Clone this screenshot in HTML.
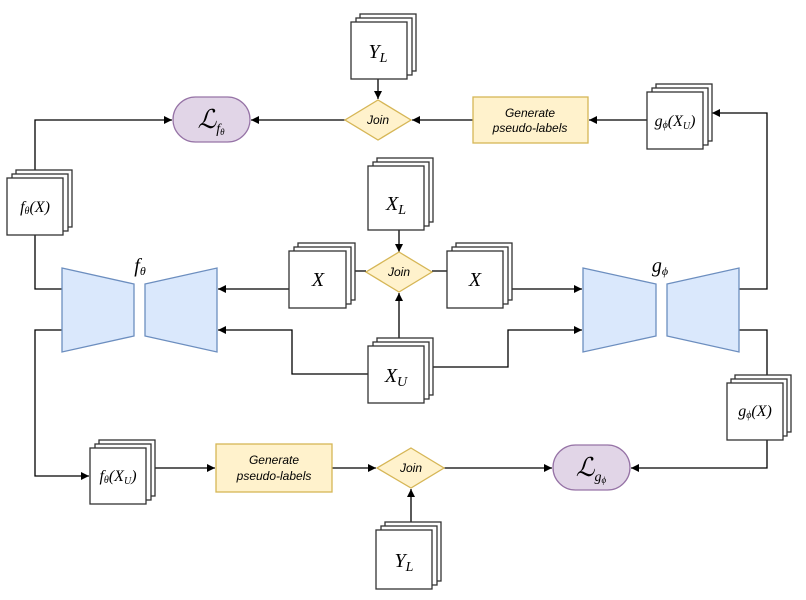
<!DOCTYPE html>
<html><head><meta charset="utf-8"><style>
html,body{margin:0;padding:0;background:#fff;}
svg{display:block;}
.m{font-family:"Liberation Serif","DejaVu Serif",serif;font-style:italic;fill:#000;}
.s{font-family:"Liberation Sans",sans-serif;font-style:italic;font-size:12px;fill:#000;}
</style></head><body>
<svg width="806" height="600" viewBox="0 0 806 600" xmlns="http://www.w3.org/2000/svg">
<defs>
<marker id="b" viewBox="0 0 10 10" refX="10" refY="5" markerWidth="8" markerHeight="8" orient="auto-start-reverse" markerUnits="userSpaceOnUse">
<path d="M0,0 L10,5 L0,10 Z" fill="#000"/></marker>
</defs>
<g fill="none" stroke="#000" stroke-width="1.3">
<path d="M378,79 V99" marker-end="url(#b)"/>
<path d="M345,120 H251" marker-end="url(#b)"/>
<path d="M473,120 H412" marker-end="url(#b)"/>
<path d="M647,120 H589" marker-end="url(#b)"/>
<path d="M739,289 H767 V113 H712" marker-end="url(#b)"/>
<path d="M35,170 V120 H172" marker-end="url(#b)"/>
<path d="M35,235 V289 H62"/>
<path d="M62,330 H35 V476 H89" marker-end="url(#b)"/>
<path d="M399,230 V252" marker-end="url(#b)"/>
<path d="M290,289 H218" marker-end="url(#b)"/>
<path d="M355,271 H366 M432,271 H447"/>
<path d="M503,289 H582" marker-end="url(#b)"/>
<path d="M399,338 V293" marker-end="url(#b)"/>
<path d="M368,374 H292 V330 H218" marker-end="url(#b)"/>
<path d="M432,367 H508 V330 H582" marker-end="url(#b)"/>
<path d="M155,468 H215" marker-end="url(#b)"/>
<path d="M332,468 H376" marker-end="url(#b)"/>
<path d="M444,468 H552" marker-end="url(#b)"/>
<path d="M739,330 H767 V375"/>
<path d="M767,440 V468 H631" marker-end="url(#b)"/>
<path d="M411,524 V489" marker-end="url(#b)"/>
</g>
<g fill="#fff" stroke="#333" stroke-width="1.3">
<rect x="360" y="14" width="56" height="57"/><rect x="356" y="18" width="56" height="57"/><rect x="351" y="22" width="56" height="57"/>
<rect x="656" y="84" width="56" height="57"/><rect x="652" y="88" width="56" height="57"/><rect x="647" y="92" width="56" height="57"/>
<rect x="16" y="170" width="56" height="57"/><rect x="12" y="174" width="56" height="57"/><rect x="7" y="178" width="56" height="57"/>
<rect x="377" y="158" width="56" height="64"/><rect x="373" y="162" width="56" height="64"/><rect x="368" y="166" width="56" height="64"/>
<rect x="298" y="243" width="57" height="57"/><rect x="294" y="247" width="57" height="57"/><rect x="289" y="251" width="57" height="57"/>
<rect x="456" y="243" width="56" height="57"/><rect x="452" y="247" width="56" height="57"/><rect x="447" y="251" width="56" height="57"/>
<rect x="377" y="338" width="56" height="57"/><rect x="373" y="342" width="56" height="57"/><rect x="368" y="346" width="56" height="57"/>
<rect x="99" y="440" width="56" height="56"/><rect x="95" y="444" width="56" height="56"/><rect x="90" y="448" width="56" height="56"/>
<rect x="735" y="375" width="56" height="57"/><rect x="731" y="379" width="56" height="57"/><rect x="727" y="383" width="56" height="57"/>
<rect x="385" y="522" width="56" height="59"/><rect x="381" y="526" width="56" height="59"/><rect x="376" y="530" width="56" height="59"/>
</g>
<g fill="#dae8fc" stroke="#6c8ebf" stroke-width="1.3">
<path d="M62,268 L134,284 L134,336 L62,352 Z"/>
<path d="M145,284 L217,268 L217,352 L145,336 Z"/>
<path d="M583,268 L656,284 L656,336 L583,352 Z"/>
<path d="M667,284 L739,268 L739,352 L667,336 Z"/>
</g>
<g fill="#fff2cc" stroke="#d6b656" stroke-width="1.3">
<path d="M378,100 L411,120 L378,140 L345,120 Z"/>
<path d="M399,252 L432,272 L399,292 L366,272 Z"/>
<path d="M411,448 L444,468 L411,488 L377,468 Z"/>
<rect x="473" y="97" width="115" height="46"/>
<rect x="216" y="444" width="116" height="48"/>
</g>
<g fill="#e1d5e7" stroke="#9673a6" stroke-width="1.3">
<rect x="173" y="97" width="77" height="45" rx="22.5"/>
<rect x="553" y="445" width="77" height="45" rx="22.5"/>
</g>
<g text-anchor="middle">
<text class="s" x="378" y="124">Join</text>
<text class="s" x="399" y="276">Join</text>
<text class="s" x="411" y="472">Join</text>
<text class="s" x="530" y="117">Generate</text><text class="s" x="530" y="132">pseudo-labels</text>
<text class="s" x="274" y="464">Generate</text><text class="s" x="274" y="480">pseudo-labels</text>
<text class="m" x="378" y="58" font-size="20">Y<tspan font-size="14" dy="4">L</tspan></text>
<text class="m" x="396" y="210" font-size="20">X<tspan font-size="14" dy="4">L</tspan></text>
<text class="m" x="318" y="286" font-size="20">X</text>
<text class="m" x="475" y="286" font-size="20">X</text>
<text class="m" x="396" y="382" font-size="20">X<tspan font-size="14" dy="4">U</tspan></text>
<text class="m" x="404" y="567" font-size="20">Y<tspan font-size="14" dy="4">L</tspan></text>
<text class="m" x="35" y="212" font-size="16">f<tspan font-size="10" dy="2">θ</tspan><tspan dy="-2">(X)</tspan></text>
<text class="m" x="118" y="481" font-size="16">f<tspan font-size="10" dy="2">θ</tspan><tspan dy="-2">(X</tspan><tspan font-size="10" dy="3">U</tspan><tspan dy="-3">)</tspan></text>
<text class="m" x="675" y="126" font-size="16">g<tspan font-size="10" dy="2">ϕ</tspan><tspan dy="-2">(X</tspan><tspan font-size="10" dy="3">U</tspan><tspan dy="-3">)</tspan></text>
<text class="m" x="755" y="416" font-size="16">g<tspan font-size="10" dy="2">ϕ</tspan><tspan dy="-2">(X)</tspan></text>
<text class="m" x="140" y="272" font-size="20">f<tspan font-size="12" dy="3">θ</tspan></text>
<text class="m" x="660" y="272" font-size="20">g<tspan font-size="12" dy="3">ϕ</tspan></text>
<text class="m" x="211" y="128" font-size="26">ℒ<tspan font-size="14" dy="5">f</tspan><tspan font-size="9" dy="2">θ</tspan></text>
<text class="m" x="591" y="476" font-size="26">ℒ<tspan font-size="14" dy="5">g</tspan><tspan font-size="9" dy="2">ϕ</tspan></text>
</g>
</svg>
</body></html>
